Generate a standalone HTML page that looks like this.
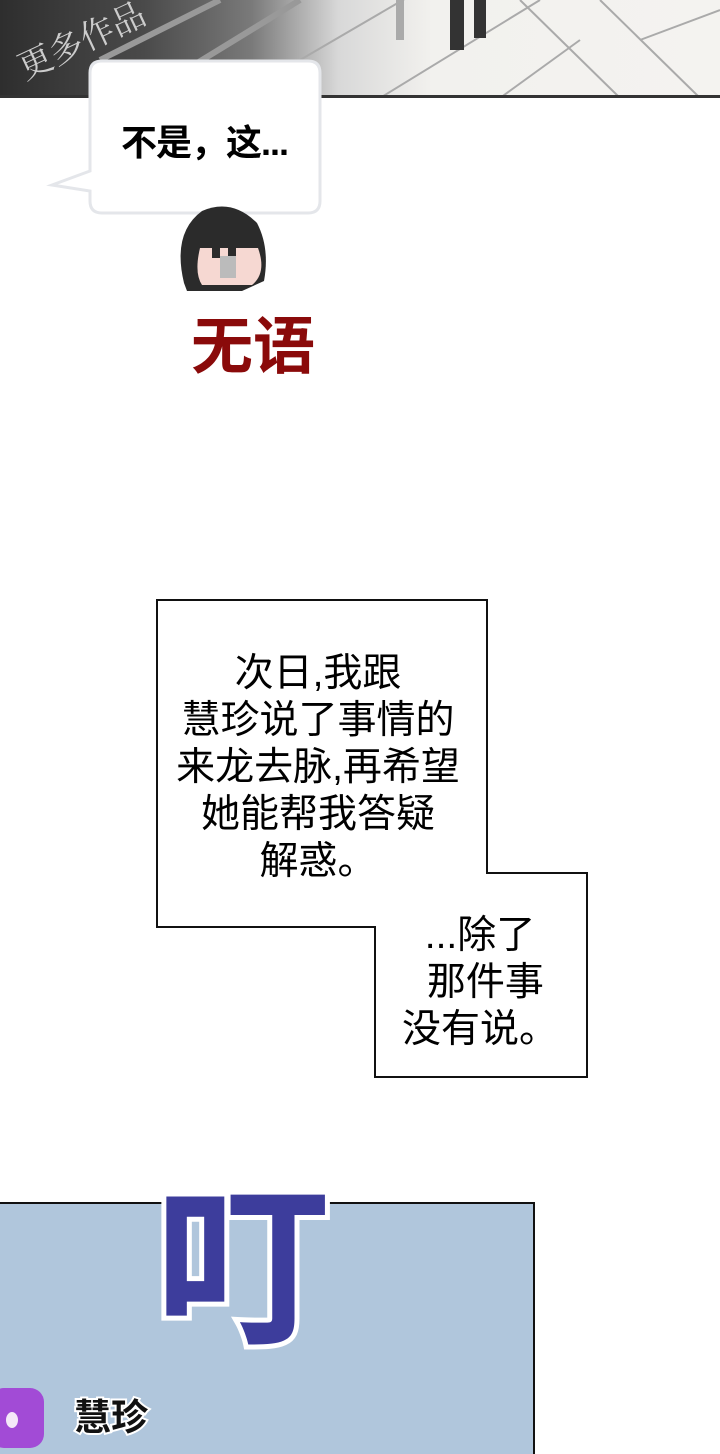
<!DOCTYPE html>
<html><head><meta charset="utf-8"><style>
body{margin:0;width:720px;height:1440px;position:relative;background:#fff;overflow:hidden;font-family:"Liberation Sans","Noto Sans CJK SC",sans-serif}
.a{position:absolute}
</style></head><body>
<div class="a" style="left:0;top:0;width:720px;height:96px;background:linear-gradient(90deg,#2e2e2e 0,#4a4a4a 20%,#7a7a7a 35%,#d8d8d8 47%,#f2f1ee 60%,#f4f3f0 100%)"></div>
<svg class="a" style="left:0;top:0" width="720" height="98">
<g stroke="#aaa" stroke-width="2" fill="none">
<line x1="300" y1="60" x2="420" y2="-10"/><line x1="380" y1="98" x2="540" y2="0"/><line x1="500" y1="98" x2="580" y2="40"/>
<line x1="520" y1="0" x2="620" y2="98"/><line x1="600" y1="0" x2="700" y2="98"/><line x1="640" y1="40" x2="720" y2="10"/>
</g>
<g stroke="#999" stroke-width="6"><line x1="100" y1="60" x2="220" y2="0"/><line x1="140" y1="98" x2="300" y2="0"/></g>
<rect x="396" y="0" width="8" height="40" fill="#aaa"/>
<rect x="450" y="0" width="14" height="50" fill="#333"/><rect x="474" y="0" width="12" height="38" fill="#333"/>
<text x="25" y="80" font-size="34" fill="#ccc" transform="rotate(-25 25 80)" font-family="Noto Serif CJK SC,serif">更多作品</text>
<rect x="0" y="95" width="720" height="3" fill="#333"/>
</svg>
<svg class="a" style="top:55px;left:40px" width="300" height="170">
<path d="M50,18 Q50,6 62,6 H268 Q280,6 280,18 V146 Q280,158 268,158 H62 Q50,158 50,146 V136 L12,130 L50,116 Z" fill="#fff" stroke="#e4e6ea" stroke-width="3"/>
</svg>
<div class="a" style="left:121px;top:114px;font-size:36px;font-weight:bold;color:#000;letter-spacing:-1px">不是，这...</div>
<svg class="a" style="left:172px;top:203px" width="100" height="92">
<path d="M12,80 Q0,30 30,8 Q60,-5 85,20 Q98,45 92,78 L70,88 L15,88 Z" fill="#2b2b2b"/>
<path d="M28,45 H86 Q95,70 80,82 H30 Q22,70 28,45 Z" fill="#f6d8d2"/>
<rect x="40" y="30" width="8" height="25" fill="#2b2b2b"/><rect x="56" y="30" width="8" height="25" fill="#2b2b2b"/>
<rect x="48" y="53" width="16" height="22" fill="#bbb"/>
</svg>
<div class="a" style="left:191px;top:296px;font-size:62px;font-weight:bold;color:#8a0a0a">无语</div>
<svg class="a" style="left:0;top:0" width="720" height="1440">
<polygon points="157,600 487,600 487,873 587,873 587,1077 375,1077 375,927 157,927" fill="#fff" stroke="#111" stroke-width="2"/>
</svg>
<div class="a" style="left:157px;top:650px;width:322px;text-align:center;font-size:39px;line-height:47px;color:#000">次日,我跟<br>慧珍说了事情的<br>来龙去脉,再希望<br>她能帮我答疑<br>解惑。</div>
<div class="a" style="left:385px;top:912px;width:190px;text-align:center;font-size:39px;line-height:47px;color:#000">...除了<br>&nbsp;那件事<br>没有说。</div>
<div class="a" style="left:-2px;top:1202px;width:535px;height:250px;background:#b0c6dc;border-top:2px solid #111;border-right:2px solid #111"></div>
<svg class="a" style="left:150px;top:1180px" width="200" height="170">
<text x="5" y="150" font-size="175" font-weight="bold" fill="#3d3d9c" stroke="#fff" stroke-width="10" paint-order="stroke" font-family="Noto Sans CJK SC,sans-serif">叮</text>
</svg>
<div class="a" style="left:-10px;top:1388px;width:54px;height:60px;background:#a24bd6;border-radius:14px"></div>
<div class="a" style="left:6px;top:1412px;width:12px;height:16px;background:#f4e8f8;border-radius:50%"></div>
<svg class="a" style="left:70px;top:1390px" width="110" height="50">
<text x="4" y="40" font-size="37" font-weight="bold" fill="#111" stroke="#fff" stroke-width="4" paint-order="stroke" font-family="Noto Sans CJK SC,sans-serif">慧珍</text>
</svg>
</body></html>
